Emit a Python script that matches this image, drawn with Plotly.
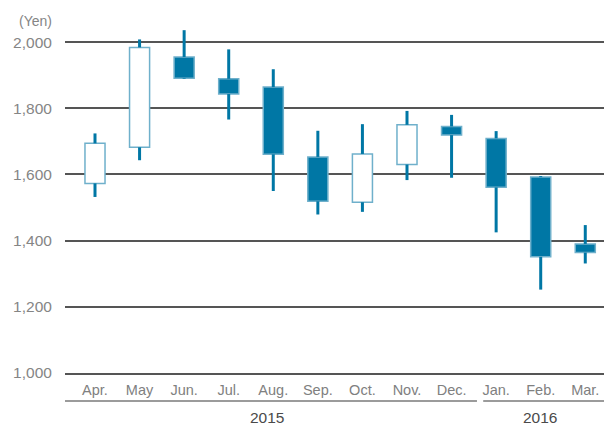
import plotly.graph_objects as go

# Monthly share price (yen), FY2015: April 2015 - March 2016
months = ["Apr.", "May", "Jun.", "Jul.", "Aug.", "Sep.", "Oct.", "Nov.", "Dec.", "Jan.", "Feb.", "Mar."]
open_px = [1573, 1682, 1955, 1889, 1864, 1653, 1516, 1630, 1745, 1709, 1592, 1390]
close_px = [1694, 1984, 1891, 1843, 1661, 1519, 1662, 1750, 1719, 1561, 1351, 1364]
high_px = [1724, 2008, 2036, 1978, 1918, 1732, 1752, 1792, 1780, 1731, 1595, 1447]
low_px = [1532, 1643, 1889, 1766, 1550, 1479, 1487, 1583, 1590, 1425, 1252, 1331]
y_ticks = [1000, 1200, 1400, 1600, 1800, 2000]
year_labels = ["2015", "2016"]

BLUE = "#0077a5"
EDGE = "#6fb0cb"
FONT = "Liberation Sans, Arial, sans-serif"

idx = list(range(len(months)))
body_lo = [min(o, c) for o, c in zip(open_px, close_px)]
body_hi = [max(o, c) for o, c in zip(open_px, close_px)]

# Wicks: lower and upper segments around each body
wx, wy = [], []
for i in idx:
    wx += [i, i, None, i, i, None]
    wy += [low_px[i], body_lo[i], None, body_hi[i], high_px[i], None]

fig = go.Figure()
fig.add_trace(go.Scatter(
    x=wx, y=wy, mode="lines",
    line=dict(color=BLUE, width=3),
    hoverinfo="skip", showlegend=False,
))
fig.add_trace(go.Bar(
    x=idx,
    y=[h - l for h, l in zip(body_hi, body_lo)],
    base=body_lo,
    width=0.45,
    marker=dict(
        color=["#ffffff" if c > o else BLUE for o, c in zip(open_px, close_px)],
        line=dict(color=EDGE, width=1.5),
    ),
    hoverinfo="skip", showlegend=False,
))

x_lo, x_hi = -0.673, 11.42

fig.update_layout(
    width=604, height=425,
    margin=dict(l=65, r=0, t=9, b=52),
    paper_bgcolor="white", plot_bgcolor="white",
    font=dict(family=FONT),
    barmode="overlay",
    hovermode=False,
    xaxis=dict(
        range=[x_lo, x_hi],
        tickvals=idx, ticktext=months,
        tickfont=dict(size=14.5, color="#808080"),
        ticks="outside", ticklen=3, tickcolor="rgba(0,0,0,0)",
        showgrid=False, zeroline=False,
        showline=True, linecolor="#555555", linewidth=1.5,
    ),
    yaxis=dict(
        range=[1000, 2100],
        tickvals=y_ticks,
        ticktext=[f"{v:,}" for v in y_ticks],
        tickfont=dict(size=15.5, color="#858585"),
        ticks="outside", ticklen=9, tickcolor="rgba(0,0,0,0)",
        showgrid=True, gridcolor="#555555", gridwidth=1.5,
        zeroline=False, showline=False,
    ),
)

# Year brackets beneath the month labels
line_y = -0.077
fig.add_shape(type="line", xref="x", yref="paper", x0=x_lo, x1=8.57, y0=line_y, y1=line_y,
              line=dict(color="#7a7a7a", width=1.5))
fig.add_shape(type="line", xref="x", yref="paper", x0=8.71, x1=x_hi, y0=line_y, y1=line_y,
              line=dict(color="#7a7a7a", width=1.5))
for label, xc in zip(year_labels, [3.86, 9.98]):
    fig.add_annotation(x=xc, y=-0.121, xref="x", yref="paper", text=label, showarrow=False,
                       xanchor="center", yanchor="middle",
                       font=dict(size=15.5, color="#4a4a4a", family=FONT))

# Unit label
fig.add_annotation(x=-0.02, y=0.967, xref="paper", yref="paper", text="(Yen)", showarrow=False,
                   xanchor="right", yanchor="middle",
                   font=dict(size=14, color="#858585", family=FONT))

fig.write_html("out.html")
